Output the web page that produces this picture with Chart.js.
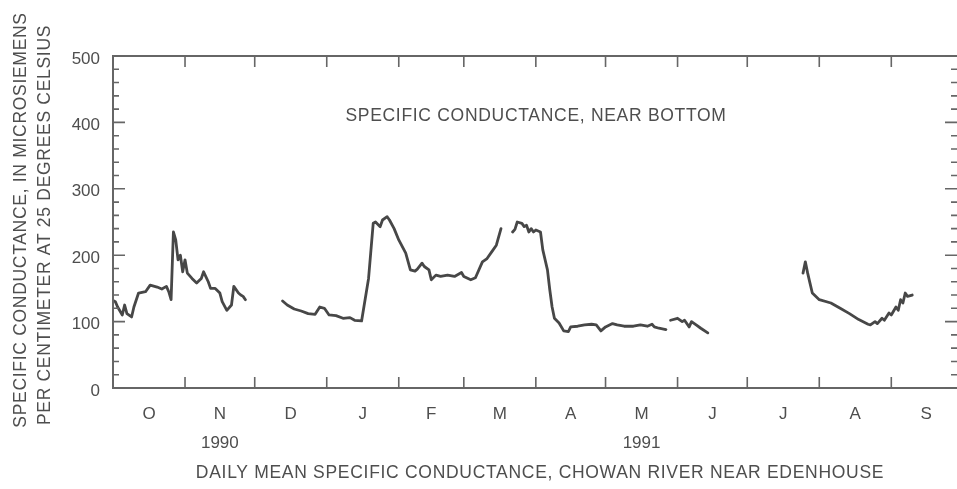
<!DOCTYPE html>
<html>
<head>
<meta charset="utf-8">
<title>Daily mean specific conductance, Chowan River near Edenhouse</title>
<script src="https://cdn.jsdelivr.net/npm/chart.js@4.4.0/dist/chart.umd.min.js"></script>
<style>
  html, body { margin: 0; padding: 0; background: #fff; overflow: hidden; }
  #wrap { position: relative; width: 962px; height: 489px; }
</style>
</head>
<body>
<div id="wrap"><canvas id="chart"></canvas></div>
<script>
// ─── Data ──────────────────────────────────────────────
// day 0 = 1 October 1990; null values are gaps in the record
var days = [
  0, 1, 2, 4, 5, 6, 8, 9, 11, 14, 16, 19, 21, 23, 24, 25, 26, 27, 28, 29, 30, 31, 32, 34, 36, 38, 39, 41, 42, 44, 46, 47, 49, 51, 52, 54, 55, 56, 57,
  65,
  73, 75, 78, 81, 84, 87, 89, 91, 93, 96, 99, 102, 104, 107, 110, 112, 113, 115, 116, 118, 119, 121, 123, 126, 128, 130, 131, 133, 134, 136, 137, 139, 141, 144, 147, 150, 151, 154, 156, 159, 161, 163, 165, 167,
  170,
  172, 173, 174, 176, 177, 178, 179, 180, 181, 182, 184, 185, 187, 188, 189, 190, 192, 194, 196, 197, 200, 203, 206, 208, 210, 212, 215, 217, 220, 224, 227, 230, 232, 233, 235, 238,
  239,
  240, 243, 245, 246, 248, 249, 251, 253, 256,
  270,
  297, 298, 299, 300, 301, 304, 309, 313, 317, 321, 325, 326, 328, 329, 331, 332, 334, 335, 337, 338, 339, 340, 341, 342, 344
];
var conductance = [
  132, 130, 122, 110, 125, 112, 107, 122, 143, 145, 155, 152, 149, 153, 145, 133, 235, 223, 193, 200, 175, 193, 173, 165, 158, 165, 175, 160, 150, 150, 143, 130, 117, 125, 153, 143, 140, 138, 133,
  null,
  131, 125, 119, 116, 112, 111, 122, 120, 110, 109, 105, 106, 102, 101, 165, 248, 250, 243, 253, 258, 253, 240, 223, 203, 178, 176, 179, 188, 183, 178, 163, 170, 168, 170, 168, 174, 168, 163, 166, 190, 195, 205, 215, 240,
  null,
  235, 239, 250, 248, 243, 245, 235, 240, 235, 238, 235, 208, 178, 148, 122, 105, 98, 86, 85, 92, 93, 95, 96, 95, 86, 92, 97, 95, 93, 93, 95, 93, 96, 92, 90, 88,
  null,
  102, 105, 100, 102, 92, 100, 95, 90, 83,
  null,
  173, 190, 173, 158, 143, 133, 128, 120, 112, 103, 96, 95, 100, 97, 105, 102, 113, 110, 122, 117, 133, 128, 143, 138, 140
];

var monthStartDays = [0, 31, 61, 92, 123, 151, 182, 212, 243, 273, 304, 335, 365];
var monthMidDays   = [15.5, 46, 76.5, 107.5, 137, 166.5, 197, 227.5, 258, 288.5, 319.5, 350];
var monthLabels    = ['O', 'N', 'D', 'J', 'F', 'M', 'A', 'M', 'J', 'J', 'A', 'S'];
var yearLabels     = ['', '1990', '', '', '', '', '', '1991', '', '', '', ''];
var yTickValues    = [0, 100, 200, 300, 400, 500];

// ─── Styles ────────────────────────────────────────────
var textColor = '#4e4e4e';
var axisColor = '#666';
var lineColor = '#474747';
var fontFamily = '"Liberation Sans", Arial, Helvetica, sans-serif';

// ─── Frame, inward ticks and titles ────────────────────
var frameAndTitles = {
  id: 'frameAndTitles',
  afterDraw: function (chart) {
    var ctx = chart.ctx;
    var a = chart.chartArea;
    var xs = chart.scales.x;
    var ys = chart.scales.y;

    ctx.save();
    ctx.strokeStyle = axisColor;
    ctx.lineWidth = 2;
    ctx.strokeRect(a.left, a.top, a.right - a.left, a.bottom - a.top);

    ctx.lineWidth = 1.6;
    ctx.beginPath();
    monthStartDays.forEach(function (d) {
      var px = xs.getPixelForValue(d);
      ctx.moveTo(px, a.bottom); ctx.lineTo(px, a.bottom - 11);
      ctx.moveTo(px, a.top);    ctx.lineTo(px, a.top + 11);
    });
    for (var v = 0; v <= 500; v += 20) {
      var py = ys.getPixelForValue(v);
      var major = v % 100 === 0;
      ctx.moveTo(a.left, py);  ctx.lineTo(a.left + (major ? 12 : 6), py);
      ctx.moveTo(a.right, py); ctx.lineTo(a.right - (major ? 16 : 10), py);
    }
    ctx.stroke();

    ctx.fillStyle = textColor;
    ctx.font = '17.5px ' + fontFamily;
    ctx.letterSpacing = '0.7px';
    ctx.textAlign = 'center';
    ctx.textBaseline = 'middle';
    ctx.fillText('SPECIFIC CONDUCTANCE, NEAR BOTTOM', 536, 116);
    ctx.fillText('DAILY MEAN SPECIFIC CONDUCTANCE, CHOWAN RIVER NEAR EDENHOUSE', 540, 473);

    ctx.translate(0, 222);
    ctx.rotate(-Math.PI / 2);
    ctx.fillText('SPECIFIC CONDUCTANCE, IN MICROSIEMENS', 2, 21);
    ctx.fillText('PER CENTIMETER AT 25 DEGREES CELSIUS', -3, 45);
    ctx.restore();
  }
};

// ─── Chart ─────────────────────────────────────────────
var points = days.map(function (d, i) {
  return { x: d, y: conductance[i] };
});

new Chart(document.getElementById('chart'), {
  type: 'line',
  data: {
    datasets: [{
      data: points,
      borderColor: lineColor,
      borderWidth: 2.8,
      pointRadius: 0,
      tension: 0,
      spanGaps: false,
      borderJoinStyle: 'round',
      borderCapStyle: 'round'
    }]
  },
  options: {
    responsive: true,
    maintainAspectRatio: false,
    animation: false,
    layout: { padding: { top: 56, right: 1, left: 0, bottom: 0 } },
    plugins: {
      legend: { display: false },
      tooltip: { enabled: false }
    },
    scales: {
      x: {
        type: 'linear',
        min: 0,
        max: 365,
        grid: { display: false, drawTicks: false },
        border: { display: false },
        afterBuildTicks: function (s) {
          s.ticks = monthMidDays.map(function (d) { return { value: d }; });
        },
        afterFit: function (s) { s.height = 101; },
        ticks: {
          autoSkip: false,
          maxRotation: 0,
          minRotation: 0,
          padding: 11.5,
          color: textColor,
          font: { family: fontFamily, size: 17, lineHeight: 1.7 },
          callback: function (v, i) {
            return yearLabels[i] ? [monthLabels[i], yearLabels[i]] : monthLabels[i];
          }
        }
      },
      y: {
        min: 0,
        max: 500,
        grid: { display: false, drawTicks: false },
        border: { display: false },
        afterBuildTicks: function (s) {
          s.ticks = yTickValues.map(function (v) { return { value: v }; });
        },
        afterFit: function (s) { s.width = 113; },
        ticks: {
          padding: 13,
          labelOffset: 3,
          color: textColor,
          font: { family: fontFamily, size: 17 }
        }
      }
    }
  },
  plugins: [frameAndTitles]
});
</script>
</body>
</html>
